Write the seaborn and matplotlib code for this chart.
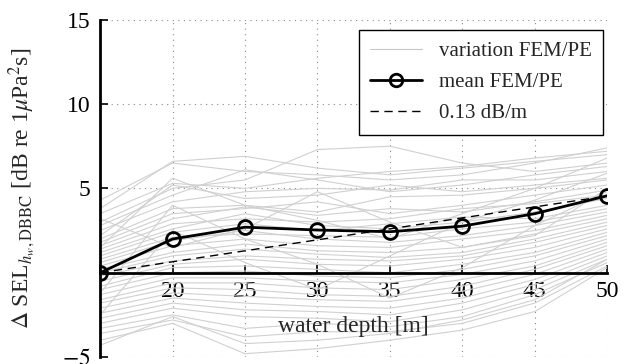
import numpy as np
import pandas as pd
import seaborn as sns
import matplotlib.pyplot as plt
from matplotlib.lines import Line2D

# water depths [m]
depth = [15, 20, 25, 30, 35, 40, 45, 50]

# mean FEM/PE difference
mean_dsel = [0.0, 2.0, 2.7, 2.53, 2.43, 2.76, 3.5, 4.56]

# individual FEM/PE runs
variation = [
    [4.3, 6.5, 6.0, 5.8, 5.5, 5.8, 6.5, 7.4],
    [3.8, 6.6, 6.9, 6.2, 5.8, 6.2, 6.6, 7.0],
    [3.5, 5.3, 5.0, 5.6, 6.0, 6.3, 6.8, 7.2],
    [3.0, 5.0, 5.5, 7.3, 7.5, 6.5, 6.0, 6.5],
    [2.8, 4.6, 6.1, 5.5, 4.8, 5.2, 5.8, 6.3],
    [2.5, 4.2, 4.8, 5.0, 4.9, 5.5, 5.5, 6.0],
    [2.2, 5.2, 4.4, 4.6, 5.2, 4.8, 5.2, 5.6],
    [2.0, 3.8, 4.0, 3.6, 4.5, 4.6, 5.0, 5.5],
    [1.8, 3.5, 3.8, 4.2, 3.5, 4.0, 4.6, 5.2],
    [1.6, 3.2, 3.9, 3.4, 3.8, 3.6, 4.2, 4.9],
    [1.4, 2.9, 3.2, 3.0, 3.2, 3.8, 4.1, 4.6],
    [1.2, 2.6, 3.5, 2.8, 2.6, 3.0, 3.6, 4.4],
    [1.0, 2.4, 2.9, 2.5, 2.9, 3.3, 3.2, 4.0],
    [0.8, 2.1, 2.3, 2.2, 2.1, 2.6, 3.0, 3.8],
    [0.6, 1.9, 2.5, 2.0, 1.8, 2.2, 2.8, 3.6],
    [0.4, 1.6, 2.0, 1.6, 1.5, 2.0, 2.5, 3.4],
    [0.2, 1.2, 1.7, 1.3, 1.2, 1.5, 2.3, 3.2],
    [0.0, 1.0, 1.4, 1.1, 0.9, 1.2, 2.0, 3.0],
    [-0.2, 0.7, 1.0, 0.8, 0.7, 1.0, 1.8, 2.8],
    [-0.5, 0.5, 0.8, 0.5, 0.4, 0.8, 1.5, 2.6],
    [-0.8, 0.3, 0.4, 0.2, 0.0, 0.5, 1.2, 2.4],
    [-1.0, 0.0, 0.1, -0.2, -0.3, 0.2, 1.0, 2.2],
    [-1.3, -0.3, -0.3, -0.5, -0.6, -0.1, 0.7, 2.0],
    [-1.6, -0.6, -0.6, -0.9, -1.0, -0.4, 0.4, 1.8],
    [-1.8, -0.9, -1.0, -1.3, -1.4, -0.8, 0.2, 1.6],
    [-2.1, -1.2, -1.4, -1.6, -1.7, -1.1, -0.1, 1.4],
    [-2.4, -1.5, -1.8, -2.0, -2.1, -1.5, -0.4, 1.2],
    [-2.7, -1.8, -2.2, -2.3, -2.5, -1.8, -0.7, 1.0],
    [-3.0, -2.1, -2.6, -2.7, -2.9, -2.2, -1.0, 0.8],
    [-3.3, -2.5, -3.3, -3.0, -3.2, -2.6, -1.3, 0.6],
    [-3.6, -2.8, -3.8, -3.5, -3.5, -3.0, -1.8, 0.4],
    [-4.0, -3.0, -4.8, -4.5, -4.0, -3.4, -2.3, 0.3],
    [-4.3, -2.6, -4.2, -4.0, -3.6, -2.8, -1.6, 0.8],
    [1.5, 5.6, 4.0, 3.1, 2.0, 3.5, 5.0, 6.8],
    [-1.2, 4.0, 2.0, 0.5, -1.5, 0.3, 2.8, 4.8],
    [3.2, 1.5, 2.6, 4.8, 3.0, 1.5, 2.2, 5.0],
    [-2.5, 2.5, 0.6, -1.0, 1.0, 3.0, 4.3, 5.9],
]

slope = 0.13  # dB/m trend

sns.set_theme(style='ticks')
plt.rcParams['font.family'] = ['Liberation Serif', 'DejaVu Serif']
plt.rcParams['mathtext.fontset'] = 'stix'

rows = []
for i, run in enumerate(variation):
    for d, v in zip(depth, run):
        rows.append({'run': i, 'depth': d, 'dsel': v})
df_var = pd.DataFrame(rows)
df_mean = pd.DataFrame({'depth': depth, 'dsel': mean_dsel})
trend = slope * (np.array(depth) - depth[0])

fig = plt.figure(figsize=(6.26, 3.64), dpi=100)
ax = fig.add_axes([0.16, 0.019, 0.81, 0.927])

sns.lineplot(data=df_var, x='depth', y='dsel', units='run', estimator=None,
             color='#d0d0d0', lw=0.8, ax=ax, legend=False, zorder=1)
ax.plot(depth, trend, color='black', lw=1, ls=(0, (6, 4)), zorder=3)
sns.lineplot(data=df_mean, x='depth', y='dsel', color='black', lw=2,
             marker='o', markersize=10, markerfacecolor='none',
             markeredgecolor='black', markeredgewidth=2, ax=ax,
             legend=False, zorder=4)

ax.set_xlim(15, 50)
ax.set_ylim(-5, 15)
ax.set_xticks(depth)
ax.set_xticklabels([''] + [str(d) for d in depth[1:]])
ax.set_yticks([-5, 0, 5, 10, 15])
ax.set_yticklabels(['$-5$', '', '5', '10', '15'])
ax.grid(True, ls=(0, (1, 4)), color='#888888', lw=0.8)
ax.set_axisbelow(True)

for side in ['top', 'right']:
    ax.spines[side].set_visible(False)
ax.spines['bottom'].set_position(('data', 0))
ax.spines['left'].set_linewidth(2)
ax.spines['bottom'].set_linewidth(2)
ax.spines['left'].set_color('black')
ax.spines['bottom'].set_color('black')
ax.spines['bottom'].set_zorder(2)
ax.tick_params(direction='in', length=6, width=1.2, colors='black',
               labelsize=17)
ax.tick_params(axis='x', pad=6)
ax.tick_params(axis='y', pad=7)

ax.set_xlabel('')
ax.set_ylabel(r'$\Delta$ SEL$_{h_w,\mathrm{DBBC}}$ [dB re 1$\mu$Pa$^2$s]',
              fontsize=17)
ax.yaxis.set_label_coords(-0.125, 0.5)
ax.text(32.5, -3.2, 'water depth [m]', fontsize=17, ha='center',
        va='center')

handles = [
    Line2D([], [], color='#c8c8c8', lw=0.8),
    Line2D([], [], color='black', lw=2, marker='o', markersize=9,
           markerfacecolor='none', markeredgewidth=2),
    Line2D([], [], color='black', lw=1, ls=(0, (6, 4))),
]
leg = ax.legend(handles, ['variation FEM/PE', 'mean FEM/PE', '0.13 dB/m'],
                loc='upper right', bbox_to_anchor=(0.992, 0.969),
                borderaxespad=0, fontsize=15, frameon=True, fancybox=False,
                framealpha=1, edgecolor='black', handlelength=2.5,
                borderpad=0.55, labelspacing=0.55)
leg.get_frame().set_linewidth(1)

fig.savefig('out.png', dpi=100)
